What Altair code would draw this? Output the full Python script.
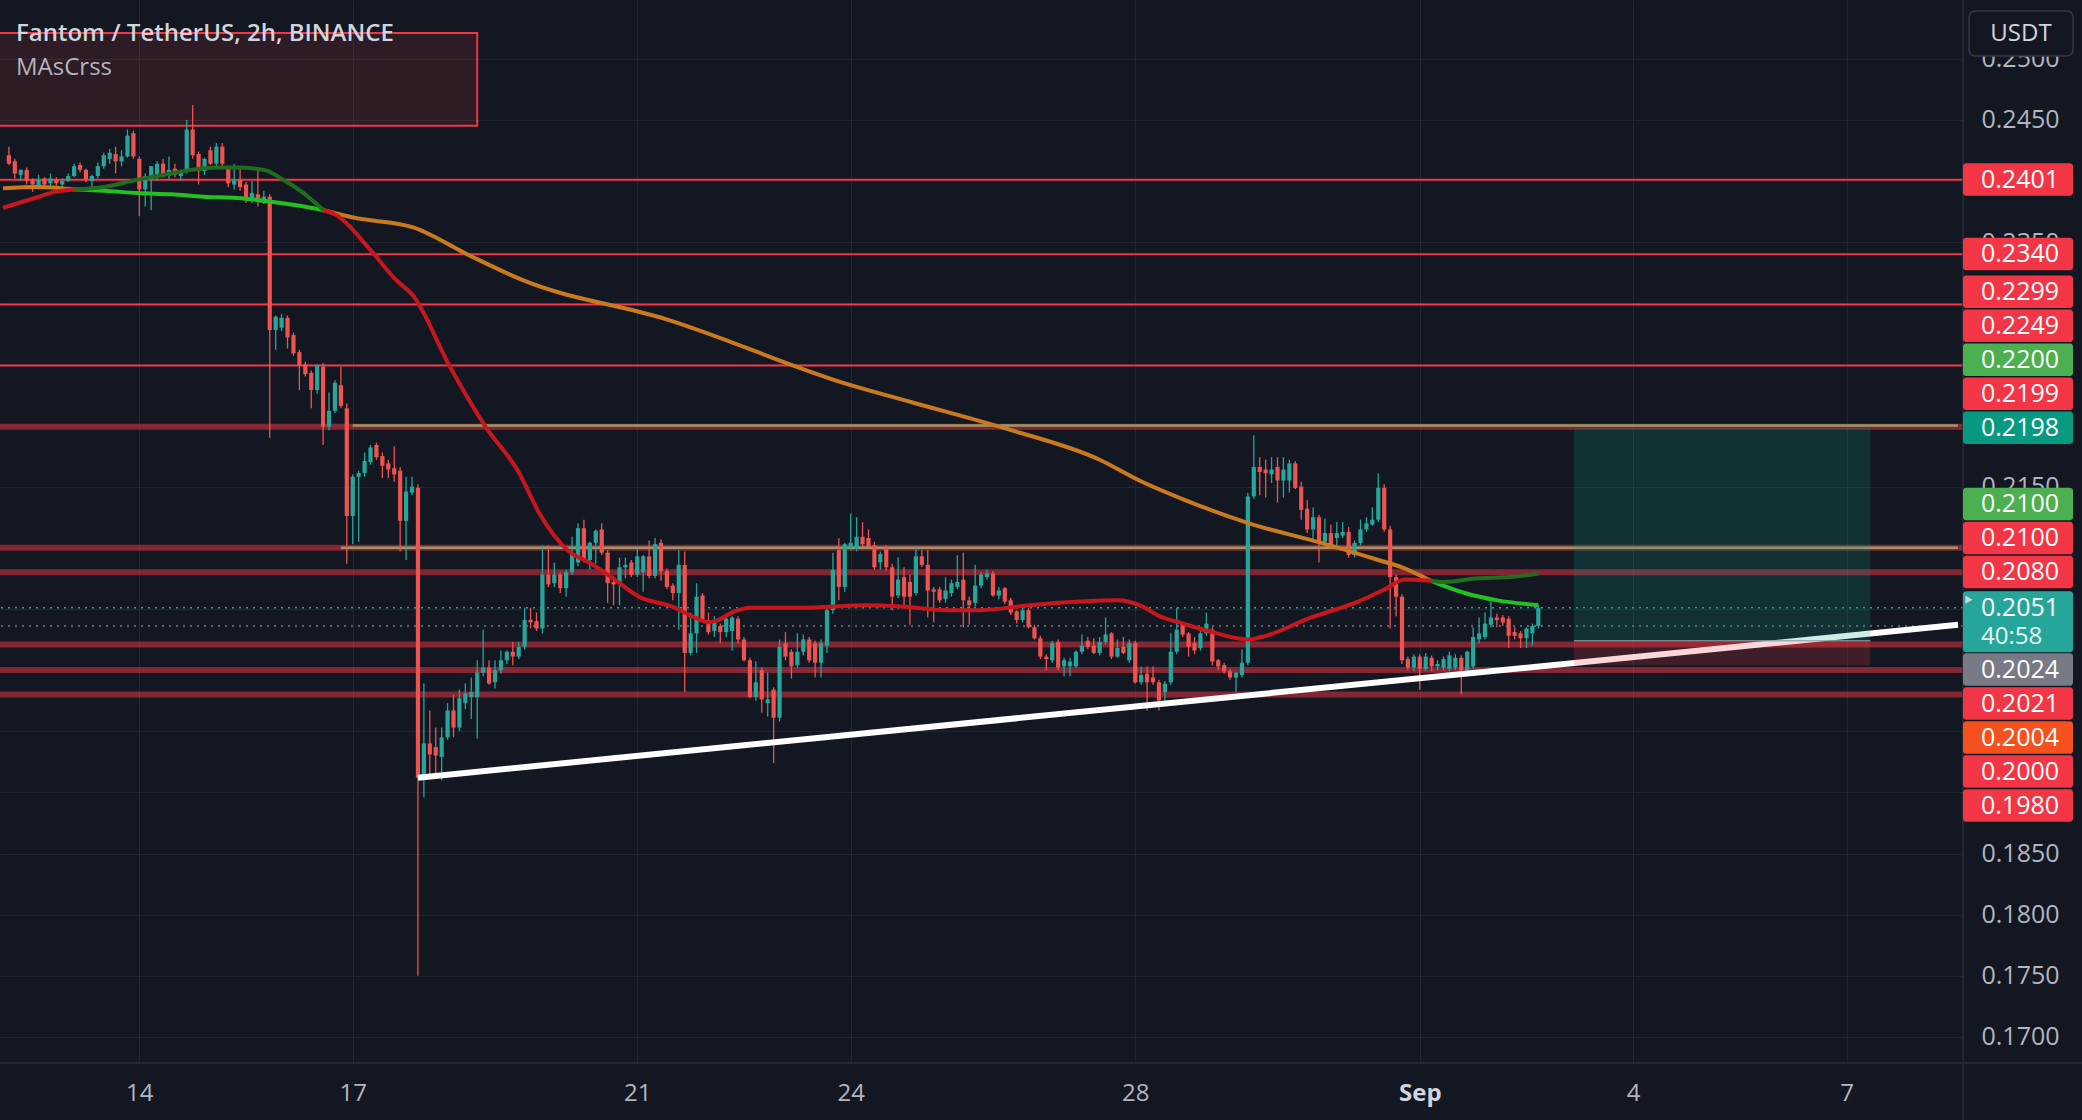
import altair as alt
import pandas as pd

# ---------------- data ----------------
BAR_START = "2023-08-12 04:00"   # first visible 2h bar (UTC)
BAR_HOURS = 2

OPEN = [
    .2421, .2416, .2405, .2409, .2401, .2395, .2402, .2398, .2401, .2397,
    .2400, .2404, .2413, .2409, .2400, .2404, .2412, .2418, .2422, .2416,
    .2420, .2439, .2418, .2393, .2401, .2403, .2414, .2404, .2410, .2404,
    .2408, .2442, .2422, .2408, .2425, .2414, .2428, .2411, .2397, .2401,
    .2397, .2384, .2389, .2383, .2387, .2278, .2280, .2288, .2274, .2260,
    .2250, .2243, .2229, .2248, .2199, .2212, .2233, .2214, .2126, .2158,
    .2161, .2170, .2184, .2175, .2169, .2165, .2163, .2122, .2145, .2149,
    .1913, .1940, .1937, .1929, .1945, .1967, .1953, .1973, .1978, .1978,
    .1998, .2002, .1990, .2000, .2008, .2015, .2011, .2019, .2041, .2040,
    .2034, .2078, .2071, .2078, .2067, .2080, .2088, .2116, .2090, .2104,
    .2115, .2096, .2072, .2071, .2084, .2088, .2078, .2080, .2093, .2077,
    .2104, .2081, .2069, .2063, .2086, .2014, .2030, .2061, .2041, .2032,
    .2036, .2031, .2032, .2042, .2025, .2008, .1978, .2000, .1973, .1984,
    .1961, .2022, .2015, .2004, .2015, .2025, .2022, .2006, .2020, .2049,
    .2098, .2068, .2100, .2099, .2109, .2108, .2102, .2088, .2100, .2084,
    .2061, .2076, .2072, .2063, .2093, .2086, .2066, .2066, .2058, .2063,
    .2068, .2074, .2057, .2055, .2069, .2076, .2079, .2061, .2067, .2057,
    .2048, .2041, .2049, .2035, .2026, .2011, .2008, .2023, .2003, .2003,
    .2003, .2015, .2024, .2020, .2014, .2023, .2030, .2011, .2019, .2008,
    .2022, .1990, .1997, .1994, .1990, .1982, .1990, .2015, .2038, .2030,
    .2022, .2018, .2030, .2033, .2008, .2004, .1999, .1994, .1996, .2006,
    .2142, .2166, .2164, .2160, .2166, .2155, .2155, .2169, .2150, .2132,
    .2115, .2125, .2105, .2112, .2108, .2110, .2113, .2094, .2104, .2115,
    .2119, .2123, .2149, .2115, .2076, .2060, .2009, .2002, .2011, .2001,
    .2010, .2003, .2002, .2001, .2002, .2010, .2000, .2003, .2025, .2027,
    .2037, .2043, .2043, .2042, .2031, .2030, .2026, .2030, .2036,
]
HIGH = [
    .2428, .2418, .2409, .2411, .2402, .2405, .2403, .2406, .2403, .2402,
    .2406, .2414, .2415, .2410, .2405, .2415, .2423, .2426, .2428, .2425,
    .2442, .2441, .2420, .2406, .2412, .2416, .2418, .2420, .2414, .2409,
    .2450, .2462, .2424, .2419, .2428, .2431, .2431, .2412, .2414, .2412,
    .2399, .2400, .2410, .2392, .2389, .2290, .2291, .2290, .2276, .2262,
    .2252, .2245, .2250, .2251, .2227, .2237, .2248, .2218, .2160, .2163,
    .2178, .2184, .2186, .2178, .2172, .2183, .2166, .2158, .2158, .2152,
    .1989, .1967, .1953, .1953, .1973, .1980, .1984, .1989, .1994, .2008,
    .2033, .2008, .2008, .2016, .2016, .2023, .2023, .2051, .2051, .2047,
    .2102, .2102, .2088, .2080, .2082, .2109, .2120, .2123, .2105, .2115,
    .2120, .2098, .2075, .2092, .2092, .2090, .2100, .2094, .2106, .2108,
    .2107, .2083, .2071, .2098, .2097, .2047, .2071, .2063, .2047, .2044,
    .2038, .2044, .2044, .2044, .2027, .2010, .2007, .2002, .1998, .1986,
    .2025, .2031, .2017, .2030, .2029, .2027, .2024, .2025, .2052, .2096,
    .2108, .2104, .2128, .2125, .2121, .2115, .2105, .2097, .2102, .2087,
    .2092, .2084, .2078, .2101, .2098, .2098, .2068, .2068, .2076, .2074,
    .2094, .2096, .2060, .2086, .2080, .2082, .2081, .2068, .2068, .2059,
    .2049, .2052, .2051, .2037, .2028, .2013, .2024, .2025, .2010, .2010,
    .2016, .2029, .2027, .2026, .2027, .2043, .2031, .2025, .2027, .2025,
    .2024, .2003, .2003, .2003, .1992, .1991, .2030, .2051, .2039, .2031,
    .2027, .2035, .2047, .2035, .2009, .2006, .2001, .1998, .2017, .2145,
    .2192, .2174, .2172, .2174, .2174, .2174, .2172, .2171, .2154, .2139,
    .2133, .2127, .2124, .2119, .2121, .2121, .2117, .2106, .2123, .2125,
    .2133, .2161, .2152, .2118, .2078, .2062, .2011, .2013, .2013, .2014,
    .2012, .2008, .2011, .2015, .2013, .2012, .2016, .2035, .2043, .2047,
    .2056, .2046, .2045, .2044, .2035, .2032, .2035, .2038, .2053,
]
LOW = [
    .2413, .2402, .2400, .2397, .2391, .2393, .2395, .2396, .2396, .2393,
    .2399, .2403, .2407, .2399, .2395, .2402, .2410, .2414, .2406, .2412,
    .2419, .2418, .2371, .2379, .2376, .2400, .2403, .2401, .2403, .2400,
    .2406, .2418, .2397, .2405, .2413, .2412, .2410, .2395, .2393, .2392,
    .2382, .2382, .2379, .2381, .2190, .2262, .2277, .2263, .2257, .2229,
    .2240, .2214, .2226, .2184, .2196, .2210, .2214, .2087, .2103, .2105,
    .2158, .2168, .2172, .2157, .2157, .2154, .2097, .2090, .2143, .1750,
    .1896, .1913, .1913, .1910, .1943, .1945, .1950, .1968, .1960, .1944,
    .1995, .1988, .1985, .1997, .2005, .2004, .2009, .2017, .2034, .2032,
    .2030, .2068, .2068, .2063, .2060, .2078, .2085, .2088, .2082, .2087,
    .2094, .2055, .2053, .2053, .2075, .2076, .2076, .2064, .2075, .2075,
    .2073, .2066, .2057, .2033, .1982, .2012, .2014, .2039, .2029, .2027,
    .2022, .2027, .2016, .2022, .2007, .1977, .1975, .1965, .1962, .1924,
    .1958, .2008, .1993, .2002, .2012, .2006, .1994, .1994, .2014, .2046,
    .2057, .2064, .2098, .2097, .2101, .2100, .2082, .2082, .2081, .2049,
    .2059, .2053, .2037, .2061, .2084, .2043, .2039, .2055, .2055, .2060,
    .2066, .2035, .2037, .2052, .2067, .2074, .2060, .2058, .2054, .2045,
    .2038, .2039, .2034, .2025, .2009, .2000, .2006, .2000, .1995, .1995,
    .2002, .2013, .2017, .2013, .2012, .2021, .2009, .2010, .2013, .2006,
    .1989, .1988, .1967, .1988, .1967, .1975, .1988, .2013, .2027, .2011,
    .2013, .2016, .2028, .2004, .2000, .1997, .1992, .1982, .1994, .2004,
    .2140, .2143, .2141, .2153, .2137, .2141, .2145, .2148, .2123, .2112,
    .2106, .2088, .2103, .2099, .2099, .2108, .2092, .2092, .2102, .2113,
    .2118, .2121, .2113, .2034, .2044, .2005, .2000, .1999, .1984, .1999,
    .1999, .2000, .2000, .1999, .2000, .1980, .1998, .2001, .2022, .2025,
    .2035, .2035, .2036, .2018, .2025, .2018, .2018, .2020, .2034,
]
CLOSE = [
    .2414, .2406, .2409, .2400, .2397, .2401, .2397, .2402, .2398, .2400,
    .2404, .2412, .2409, .2401, .2404, .2412, .2421, .2423, .2416, .2420,
    .2437, .2420, .2393, .2404, .2412, .2414, .2405, .2409, .2405, .2407,
    .2442, .2421, .2408, .2418, .2414, .2428, .2414, .2398, .2401, .2395,
    .2384, .2390, .2383, .2387, .2278, .2289, .2288, .2272, .2259, .2249,
    .2242, .2229, .2249, .2199, .2212, .2235, .2216, .2126, .2158, .2161,
    .2171, .2182, .2174, .2167, .2164, .2160, .2122, .2146, .2150, .1912,
    .1940, .1931, .1930, .1945, .1967, .1953, .1977, .1981, .1982, .1998,
    .2002, .1989, .2000, .2008, .2015, .2011, .2019, .2041, .2039, .2034,
    .2078, .2070, .2078, .2067, .2080, .2095, .2116, .2090, .2104, .2114,
    .2096, .2071, .2070, .2084, .2086, .2078, .2093, .2093, .2077, .2103,
    .2081, .2068, .2063, .2086, .2014, .2030, .2060, .2041, .2031, .2039,
    .2031, .2042, .2043, .2025, .2008, .1978, .1990, .1976, .1976, .1961,
    .2019, .2011, .2003, .2015, .2025, .2008, .2006, .2022, .2049, .2082,
    .2068, .2103, .2104, .2109, .2103, .2101, .2084, .2095, .2084, .2060,
    .2074, .2060, .2060, .2093, .2086, .2065, .2064, .2057, .2065, .2071,
    .2072, .2057, .2053, .2069, .2078, .2079, .2061, .2065, .2056, .2047,
    .2041, .2049, .2035, .2026, .2011, .2009, .2022, .2002, .2008, .2007,
    .2015, .2020, .2019, .2014, .2023, .2029, .2011, .2018, .2014, .2022,
    .1990, .1996, .1990, .1990, .1975, .1989, .2015, .2033, .2029, .2019,
    .2016, .2030, .2038, .2007, .2003, .1999, .1994, .1998, .2006, .2142,
    .2166, .2162, .2161, .2164, .2155, .2164, .2169, .2149, .2131, .2115,
    .2125, .2105, .2112, .2101, .2112, .2113, .2094, .2104, .2115, .2120,
    .2123, .2149, .2115, .2076, .2060, .2008, .2002, .2011, .2001, .2011,
    .2003, .2005, .2009, .2012, .2010, .2000, .2015, .2027, .2030, .2038,
    .2043, .2041, .2039, .2028, .2028, .2026, .2034, .2036, .2051,
]

# moving averages (bar index, value)
FAST_IDX = [-1, 4.4, 7.7, 11.1, 16.1, 21.7, 26.2, 30.7, 35.1, 38.5, 43.0, 46.3, 49.7, 53.1,
            55.2, 60.9, 65.3, 68.2, 74.4, 80.4, 86.1, 89.5, 94.5, 97.9, 102.2, 106.3, 111.8,
            115.7, 118.0, 119.7, 122.4, 125.2, 133.6, 144.9, 150.4, 158.3, 163.8, 172.2, 180.6,
            187.3, 190.7, 194.6, 197.4, 203.0, 209.2, 211.3, 219.7, 227.6, 232.1, 235.5, 239.9,
            242.2, 247.8, 253.3, 258.0]
FAST_VAL = [.2378, .2386, .2391, .2393, .2395, .2401, .2405, .2409, .2411, .2411, .2409, .2401,
            .2390, .2376, .2372, .2344, .2319, .2306, .2248, .2199, .2161, .2128, .2097, .2088,
            .2074, .2060, .2052, .2043, .2039, .2041, .2048, .2051, .2051, .2053, .2052, .2049,
            .2049, .2053, .2056, .2057, .2053, .2043, .2039, .2031, .2025, .2027, .2043, .2056,
            .2066, .2074, .2073, .2072, .2075, .2076, .2079]
SLOW_IDX = [-1, 4.9, 11.1, 16.1, 21.7, 27.4, 32.9, 38.5, 44.2, 48.5, 53.1, 58.1, 68.2, 77.7,
            86.6, 110.8, 142.0, 152.3, 168.5, 184.0, 190.7, 198.4, 209.2, 221.4, 231.0, 235.0,
            239.9, 245.6, 251.1, 258.0]
SLOW_VAL = [.2394, .2395, .2393, .2392, .2390, .2389, .2387, .2386, .2383, .2380, .2376, .2370,
            .2362, .2339, .2319, .2287, .2233, .2219, .2197, .2172, .2155, .2139, .2120, .2104,
            .2090, .2084, .2073, .2063, .2057, .2053]
CROSS_IDX = [11.1, 53.1, 239.9]
FAST_COLORS = ["#c8161d", "#1f6e1f", "#c8161d", "#1f6e1f"]
SLOW_COLORS = ["#c97a1f", "#22c022", "#c97a1f", "#22c022"]

TREND_T = ["2023-08-17 22:00", "2023-09-08 13:35"]
TREND_P = [0.1912, 0.2037]

THIN_LINES = [0.2401, 0.2340, 0.2299, 0.2249]
BAND_LINES = [0.2199, 0.2100, 0.2080, 0.2021, 0.2000, 0.1980]
OLIVE_P = [0.2200, 0.2100]
OLIVE_T = ["2023-08-17 00:00", "2023-08-16 20:00"]
DOT_P = [0.2051, 0.2036]
DOT_C = ["#26a69a", "#787b86"]

BOX_T = ["2023-08-10 00:00", "2023-08-18 18:00"]
BOX_P = [0.2521, 0.2445]

POS_T = ["2023-09-03 04:00", "2023-09-07 08:00"]
POS_TARGET, POS_ENTRY, POS_STOP = 0.2198, 0.2024, 0.2004

PL_PRICE = [0.2401, 0.2340, 0.2299, 0.2249, 0.2200, 0.2199, 0.2198, 0.2100, 0.2100, 0.2080,
            0.2051, 0.2024, 0.2021, 0.2004, 0.2000, 0.1980]
PL_COLOR = ["#f23645", "#f23645", "#f23645", "#f23645", "#4caf50", "#f23645", "#089981",
            "#4caf50", "#f23645", "#f23645", "#26a69a", "#787b86", "#f23645", "#f4511e",
            "#f23645", "#f23645"]
PL_CURRENT = 10
COUNTDOWN = "40:58"

X_DOMAIN = ["2023-08-12 02:41", "2023-09-08 13:35"]
Y_DOMAIN = [0.16787, 0.25479]
X_TICKS = ["2023-08-14", "2023-08-17", "2023-08-21", "2023-08-24", "2023-08-28",
           "2023-09-01", "2023-09-04", "2023-09-07"]
Y_TICKS = [0.170, 0.175, 0.180, 0.185, 0.190, 0.195, 0.200, 0.205, 0.210, 0.215,
           0.220, 0.225, 0.230, 0.235, 0.240, 0.245, 0.250]

TITLE = "Fantom / TetherUS, 2h, BINANCE"
SUBTITLE = "MAsCrss"

# ---------------- style ----------------
W, H = 1963, 1063
BG = "#131722"
GRID = "#222631"
AXIS_TXT = "#b2b5be"
UP, DN = "#26a69a", "#ef5350"
RED = "#f23645"
FONT = "Open Sans"

assert len(OPEN) == len(HIGH) == len(LOW) == len(CLOSE)


def ms(s):
    return int(pd.Timestamp(s, tz="UTC").timestamp() * 1000)


def bar_time(i):
    return ms(BAR_START) + int(i * BAR_HOURS * 3600 * 1000)


# ---- price-scale labels, pushed apart like the platform does ----
k = (Y_DOMAIN[1] - Y_DOMAIN[0]) / H   # price per pixel
half = 17 * k
centers = list(PL_PRICE)
a = PL_CURRENT
top = centers[a] + half
bot = centers[a] - 45 * k
for i in range(a - 1, -1, -1):
    centers[i] = max(PL_PRICE[i], top + half)
    top = centers[i] + half
for i in range(a + 1, len(PL_PRICE)):
    centers[i] = min(PL_PRICE[i], bot - half)
    bot = centers[i] - half

lab_rows = []
for i, (p, c, col) in enumerate(zip(PL_PRICE, centers, PL_COLOR)):
    y0 = c + 16.5 * k
    y1 = c - (44.5 * k if i == a else 16 * k)
    lab_rows.append({"y0": y0, "y1": y1, "c": c, "txt": f"{p:.4f}", "col": col})
lab_df = pd.DataFrame(lab_rows)

# union of the label boxes (touching boxes merged) -> axis labels fully under them stay blank
spans = sorted((r["y1"], r["y0"]) for r in lab_rows)
merged = []
for lo, hi in spans:
    if merged and lo <= merged[-1][1] + 2 * k:
        merged[-1][1] = max(merged[-1][1], hi)
    else:
        merged.append([lo, hi])
hidden = [f"{t:.4f}" for t in Y_TICKS
          if any(lo <= t - 9 * k and t + 9 * k <= hi for lo, hi in merged)]
hidden_js = "[" + ",".join(f"'{h}'" for h in hidden) + "]"

xs = alt.Scale(type="utc", domain=[ms(X_DOMAIN[0]), ms(X_DOMAIN[1])])
ys = alt.Scale(domain=Y_DOMAIN, zero=False, nice=False)

cdf = pd.DataFrame({
    "t": [bar_time(i) for i in range(len(OPEN))],
    "o": OPEN, "c": CLOSE,
    "h": [max(h, o, c) for h, o, c in zip(HIGH, OPEN, CLOSE)],
    "l": [min(l, o, c) for l, o, c in zip(LOW, OPEN, CLOSE)],
})

is_sep = "utcdate(datum.value) == 1"
x_axis = alt.Axis(
    values=[ms(d) for d in X_TICKS],
    labelExpr="utcdate(datum.value) == 1 ? utcFormat(datum.value, '%b') : utcFormat(datum.value, '%-d')",
    title=None, grid=True, gridColor=GRID, gridWidth=1, domain=False, ticks=False, tickSize=0,
    labelPadding=30, labelBaseline="middle", labelFont=FONT, labelFontSize=24,
    labelColor={"condition": {"test": is_sep, "value": "#d1d4dc"}, "value": AXIS_TXT},
    labelFontWeight={"condition": {"test": is_sep, "value": "bold"}, "value": "normal"},
    labelFlush=False, labelOverlap=False, zindex=0,
)
y_axis = alt.Axis(
    orient="right", values=Y_TICKS, title=None, grid=True, gridColor=GRID,
    labelExpr=f"indexof({hidden_js}, format(datum.value, '.4f')) >= 0 ? '' : format(datum.value, '.4f')",
    gridWidth=1, domain=False, ticks=False, tickSize=0, labelPadding=18, labelColor=AXIS_TXT,
    labelFont=FONT, labelFontSize=25, labelFlush=False, labelOverlap=False,
    labelBaseline="middle", labelAlign="left", zindex=0,
)


def X(field):
    return alt.X(field, type="temporal", scale=xs, axis=x_axis)


def Y(field):
    return alt.Y(field, type="quantitative", scale=ys, axis=y_axis)


cond = alt.condition("datum.c >= datum.o", alt.value(UP), alt.value(DN))

# horizontal levels
thin = alt.Chart(pd.DataFrame({"p": THIN_LINES})).mark_rule(color=RED, strokeWidth=2).encode(
    y=Y("p"))
bands = alt.Chart(pd.DataFrame({"p": BAND_LINES})).mark_rule(color=RED, strokeWidth=6, opacity=0.5).encode(
    y=Y("p"))
olive = alt.Chart(pd.DataFrame({"p": OLIVE_P, "t0": [ms(t) for t in OLIVE_T],
                                "t1": [ms(X_DOMAIN[1])] * len(OLIVE_P)})).mark_rule(
    color="#979a66", strokeWidth=2.5, clip=True).encode(x=X("t0"), x2="t1:T", y=Y("p"))
dots = alt.Chart(pd.DataFrame({"p": DOT_P, "col": DOT_C})).mark_rule(
    strokeWidth=1.5, strokeDash=[2, 5]).encode(y=Y("p"), color=alt.Color("col:N", scale=None))

# indicator box top-left
box = alt.Chart(pd.DataFrame({"t0": [ms(BOX_T[0])], "t1": [ms(BOX_T[1])],
                              "p0": [BOX_P[0]], "p1": [BOX_P[1]]})).mark_rect(
    fill=RED, fillOpacity=0.12, stroke=RED, strokeWidth=2, clip=True).encode(
    x=X("t0"), x2="t1:T", y=Y("p0"), y2="p1:Q")

# candles
wick = alt.Chart(cdf).mark_rule(strokeWidth=1.3, clip=True).encode(
    x=X("t"), y=Y("l"), y2="h:Q", color=cond)
body = alt.Chart(cdf).mark_bar(size=4.2, clip=True).encode(
    x=X("t"), y=Y("o"), y2="c:Q", color=cond)


# moving averages split at crossings
def ma_frame(idx, val, colors, name):
    bounds = [-1e9] + CROSS_IDX + [1e9]
    rows = []
    for kk in range(len(bounds) - 1):
        for i, v in zip(idx, val):
            if bounds[kk] <= i <= bounds[kk + 1]:
                rows.append({"t": bar_time(i), "v": v, "seg": f"{name}{kk}", "col": colors[kk]})
    return pd.DataFrame(rows)


ma_df = pd.concat([ma_frame(SLOW_IDX, SLOW_VAL, SLOW_COLORS, "s"),
                   ma_frame(FAST_IDX, FAST_VAL, FAST_COLORS, "f")])
mas = alt.Chart(ma_df).mark_line(strokeWidth=4, interpolate="monotone", clip=True).encode(
    x=X("t"), y=Y("v"), detail="seg:N", color=alt.Color("col:N", scale=None))

trend = alt.Chart(pd.DataFrame({"t": [ms(t) for t in TREND_T], "p": TREND_P})).mark_line(
    color="white", strokeWidth=6, clip=True).encode(x=X("t"), y=Y("p"))

pos_df = pd.DataFrame({"t0": [ms(POS_T[0])] * 2, "t1": [ms(POS_T[1])] * 2,
                       "p0": [POS_TARGET, POS_ENTRY], "p1": [POS_ENTRY, POS_STOP],
                       "col": ["#089981", RED]})
pos = alt.Chart(pos_df).mark_rect(opacity=0.2, clip=True).encode(
    x=X("t0"), x2="t1:T", y=Y("p0"), y2="p1:Q", color=alt.Color("col:N", scale=None))
pos_entry = alt.Chart(pd.DataFrame({"t0": [ms(POS_T[0])], "t1": [ms(POS_T[1])],
                                    "p": [POS_ENTRY]})).mark_rule(
    color="#8fa3a3", strokeWidth=1.5, opacity=0.8).encode(x=X("t0"), x2="t1:T", y=Y("p"))

lab_box = alt.Chart(lab_df).mark_rect(cornerRadius=3).encode(
    x=alt.value(W), x2=alt.value(W + 110), y=Y("y0"), y2="y1:Q",
    color=alt.Color("col:N", scale=None))
lab_txt = alt.Chart(lab_df).mark_text(align="left", baseline="middle", font=FONT, fontSize=25,
                                      color="white").encode(
    x=alt.value(W + 18), y=Y("c"), text="txt:N")
cd_txt = alt.Chart(pd.DataFrame({"c": [centers[a] - 29 * k], "txt": [COUNTDOWN]})).mark_text(
    align="left", baseline="middle", font=FONT, fontSize=24, color="#e6f4f2").encode(
    x=alt.value(W + 18), y=Y("c"), text="txt:N")
marker = alt.Chart(pd.DataFrame({"c": [centers[a] + 8 * k]})).mark_point(
    shape="triangle-right", filled=True, size=70, color="#d1d4dc", opacity=1).encode(
    x=alt.value(W + 6), y=Y("c"))

# frame separators and currency button
sep_v = alt.Chart(pd.DataFrame({"a": [0]})).mark_rule(color="#2a2e39", strokeWidth=1.5).encode(
    x=alt.value(W), y=alt.value(0), y2=alt.value(1120))
sep_h = alt.Chart(pd.DataFrame({"a": [0]})).mark_rule(color="#2a2e39", strokeWidth=1.5).encode(
    x=alt.value(0), x2=alt.value(2082), y=alt.value(H))
usdt_box = alt.Chart(pd.DataFrame({"a": [0]})).mark_rect(
    fill=BG, stroke="#363a45", strokeWidth=1.5, cornerRadius=6).encode(
    x=alt.value(W + 6), x2=alt.value(W + 110), y=alt.value(11), y2=alt.value(56))
usdt_txt = alt.Chart(pd.DataFrame({"txt": ["USDT"]})).mark_text(
    align="center", baseline="middle", font=FONT, fontSize=24, color="#d1d4dc").encode(
    x=alt.value(W + 58), y=alt.value(34), text="txt:N")

title = alt.Chart(pd.DataFrame({"txt": [TITLE]})).mark_text(
    align="left", baseline="alphabetic", font=FONT, fontSize=24, fontWeight=600,
    color="#d1d4dc").encode(x=alt.value(16), y=alt.value(41), text="txt:N")
sub = alt.Chart(pd.DataFrame({"txt": [SUBTITLE]})).mark_text(
    align="left", baseline="alphabetic", font=FONT, fontSize=24, color="#b2b5be").encode(
    x=alt.value(16), y=alt.value(75), text="txt:N")

chart = alt.layer(
    thin, bands, olive, dots, box, wick, body, mas, trend, pos, pos_entry,
    sep_v, sep_h, lab_box, lab_txt, cd_txt, marker, usdt_box, usdt_txt, title, sub,
).properties(
    width=W, height=H, background=BG, autosize="none",
    padding={"left": 0, "top": 0, "right": 2082 - W, "bottom": 1120 - H},
).configure_view(stroke=None)

chart.save("out.html", embed_options={"renderer": "svg", "actions": False})
